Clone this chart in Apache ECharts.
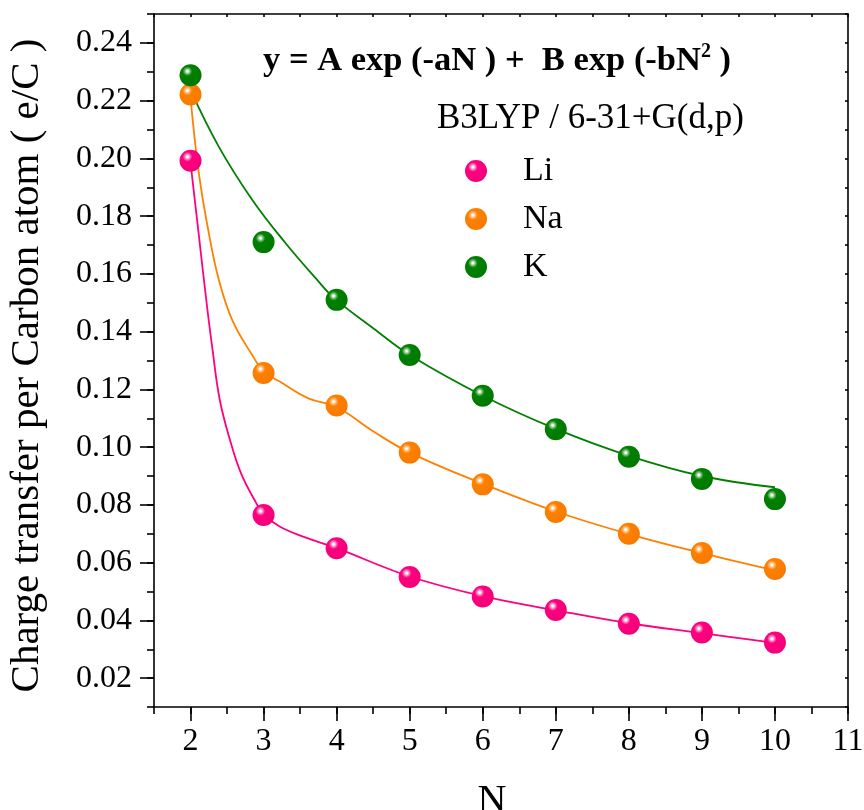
<!DOCTYPE html>
<html>
<head>
<meta charset="utf-8">
<script src="https://cdn.jsdelivr.net/npm/echarts@6/dist/echarts.min.js"></script>
<style>html,body{margin:0;padding:0;background:#fff;}#c{width:864px;height:810px;}</style>
</head>
<body>
<div id="c"></div>
<script>
// ---- data ----
const nValues = [2, 3, 4, 5, 6, 7, 8, 9, 10];
const liValues = [0.1992, 0.0765, 0.0650, 0.0550, 0.0483, 0.0436, 0.0388, 0.0358, 0.0323];
const naValues = [0.2221, 0.1257, 0.1144, 0.0981, 0.0871, 0.0775, 0.0700, 0.0633, 0.0578];
const kValues  = [0.2288, 0.1710, 0.1510, 0.1319, 0.1178, 0.1062, 0.0967, 0.0890, 0.0820];

// fitted curves
const fitLiN = [2.0, 2.12, 2.22, 2.3, 2.4, 2.54, 2.69, 2.9, 3.0, 3.22, 3.54, 4.0, 5, 6, 7, 8, 9, 10];
const fitLi  = [0.1985, 0.172, 0.150, 0.1340, 0.1164, 0.1025, 0.091, 0.0806, 0.0767, 0.0725, 0.069, 0.0650, 0.0552, 0.0484, 0.0435, 0.0390, 0.0356, 0.0322];
const fitNaN = [2.0, 2.114, 2.251, 2.388, 2.571, 2.846, 3.0, 3.22, 3.613, 4.0, 4.5, 5, 6, 7, 8, 9, 10];
const fitNa  = [0.221, 0.1948, 0.174, 0.1579, 0.144, 0.1318, 0.1262, 0.1227, 0.1169, 0.1139, 0.1055, 0.0981, 0.0873, 0.0777, 0.0699, 0.0633, 0.0573];
const fitKN  = [2.0, 2.388, 2.846, 3.302, 3.713, 3.97, 4.5, 5, 6, 7, 8, 9, 10];
const fitK   = [0.2236, 0.2040, 0.1856, 0.1706, 0.1585, 0.1515, 0.1412, 0.1319, 0.1178, 0.1063, 0.0970, 0.0900, 0.0861];

const xTickLabels = [2, 3, 4, 5, 6, 7, 8, 9, 10, 11];
const yTickLabels = [0.02, 0.04, 0.06, 0.08, 0.10, 0.12, 0.14, 0.16, 0.18, 0.20, 0.22, 0.24];
const seriesNames = ['Li', 'Na', 'K'];
const fitTitle = 'y = A exp (-aN ) +  B exp (-bN';
const methodLabel = 'B3LYP / 6-31+G(d,p)';
const xName = 'N';
const yName = 'Charge transfer per Carbon atom ( e/C )';

// ---- styling ----
const FONT = 'Liberation Serif';
const colors = { Li: ['#ff0080', '#ff9ccb', '#f20079'], Na: ['#ff8000', '#ffc48a', '#f57a00'], K: ['#008000', '#8cc88c', '#007800'] };
function ball(name) {
  const c = colors[name];
  return {
    type: 'radial', x: 0.36, y: 0.32, r: 0.72,
    colorStops: [
      { offset: 0, color: '#ffffff' },
      { offset: 0.05, color: '#ffffff' },
      { offset: 0.14, color: c[1] },
      { offset: 0.3, color: c[0] },
      { offset: 1, color: c[2] }
    ]
  };
}
function pairs(xs, ys) { return xs.map((x, i) => [x, ys[i]]); }

const axisBlack = { color: '#000', width: 1.6 };
const baseX = { type: 'value', min: 1.5, max: 11, interval: 0.5, gridIndex: 0, splitLine: { show: false } };
const baseY = { type: 'value', min: 0.01, max: 0.25, interval: 0.01, gridIndex: 0, splitLine: { show: false } };

const series = [];
const scatterData = { Li: liValues, Na: naValues, K: kValues };
const fits = { Li: [fitLiN, fitLi], Na: [fitNaN, fitNa], K: [fitKN, fitK] };
seriesNames.forEach(n => {
  series.push({
    name: n + ' fit', type: 'line', xAxisIndex: 0, yAxisIndex: 0,
    data: pairs(fits[n][0], fits[n][1]), smooth: 0.4,
    showSymbol: false, symbol: 'none', silent: true,
    lineStyle: { color: colors[n][0], width: 1.8 }, z: 2
  });
});
seriesNames.forEach(n => {
  series.push({
    name: n, type: 'scatter', xAxisIndex: 0, yAxisIndex: 0,
    data: pairs(nValues, scatterData[n]), symbol: 'circle', symbolSize: 22,
    itemStyle: { color: ball(n), opacity: 1 }, z: 5
  });
});

const option = {
  backgroundColor: '#fff',
  animation: false,
  grid: { left: 154, right: 16, top: 14, bottom: 103, containLabel: false, outerBoundsMode: 'none' },
  title: [
    {
      text: '{a|' + fitTitle + '}{s|2}{a| )}', left: 263, top: 42, padding: 0,
      textStyle: { rich: {
        a: { fontFamily: FONT, fontSize: 34.5, fontWeight: 'bold', color: '#000', lineHeight: 38 },
        s: { fontFamily: FONT, fontSize: 20, fontWeight: 'bold', color: '#000', verticalAlign: 'top', lineHeight: 38, padding: [0, 0, 20, 0] }
      } }
    },
    {
      text: methodLabel, left: 437, top: 101, padding: 0,
      textStyle: { fontFamily: FONT, fontSize: 35, fontWeight: 'normal', color: '#000' }
    }
  ],
  legend: {
    data: seriesNames, orient: 'vertical', left: 465, top: 154, itemGap: 14,
    itemWidth: 22, itemHeight: 22, padding: 0, selectedMode: false,
    textStyle: { fontFamily: FONT, fontSize: 34, color: '#000', lineHeight: 34, padding: [0, 0, 0, 31] }
  },
  xAxis: [
    Object.assign({}, baseX, {
      position: 'bottom',
      axisLine: { show: true, lineStyle: axisBlack },
      axisTick: { show: true, customValues: xTickLabels, length: 14, inside: false, lineStyle: axisBlack },
      axisLabel: { show: true, customValues: xTickLabels, margin: 19, fontFamily: FONT, fontSize: 32, color: '#000', formatter: v => String(Math.round(v)) },
      name: xName, nameLocation: 'middle', nameGap: 74,
      nameTextStyle: { fontFamily: FONT, fontSize: 40, color: '#000', padding: [0, 18, 0, 0] }
    }),
    Object.assign({}, baseX, {
      position: 'bottom', axisLine: { show: false },
      axisTick: { show: true, length: 7, inside: false, lineStyle: axisBlack },
      axisLabel: { show: false }
    }),
    Object.assign({}, baseX, {
      position: 'top', axisLine: { show: true, lineStyle: axisBlack },
      axisTick: { show: true, length: 3, inside: true, lineStyle: axisBlack },
      axisLabel: { show: false }
    })
  ],
  yAxis: [
    Object.assign({}, baseY, {
      position: 'left',
      axisLine: { show: true, lineStyle: axisBlack },
      axisTick: { show: true, customValues: yTickLabels, length: 14, inside: false, lineStyle: axisBlack },
      axisLabel: { show: true, customValues: yTickLabels, margin: 22, fontFamily: FONT, fontSize: 32, color: '#000', formatter: v => v.toFixed(2) },
      name: yName, nameLocation: 'middle', nameGap: 106, nameRotate: 90,
      nameTextStyle: { fontFamily: FONT, fontSize: 41, color: '#000', padding: [0, 10, 0, 0] }
    }),
    Object.assign({}, baseY, {
      position: 'left', axisLine: { show: false },
      axisTick: { show: true, length: 7, inside: false, lineStyle: axisBlack },
      axisLabel: { show: false }
    }),
    Object.assign({}, baseY, {
      position: 'right', axisLine: { show: true, lineStyle: axisBlack },
      axisTick: { show: true, length: 3, inside: true, lineStyle: axisBlack },
      axisLabel: { show: false }
    })
  ],
  series: series
};

const chart = echarts.init(document.getElementById('c'), null, { renderer: 'canvas' });
chart.setOption(option);
</script>
</body>
</html>
